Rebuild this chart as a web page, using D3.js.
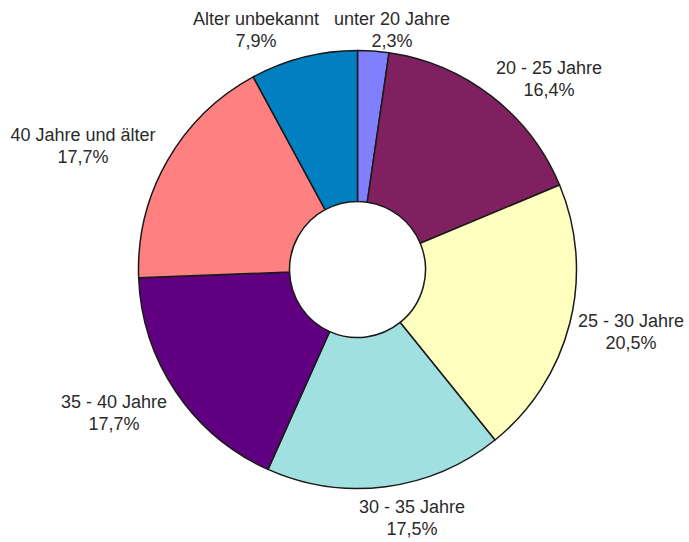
<!DOCTYPE html>
<html>
<head>
<meta charset="utf-8">
<script src="https://cdn.jsdelivr.net/npm/d3@7"></script>
<style>
  html, body { margin: 0; padding: 0; background: #ffffff; }
  svg { display: block; }
</style>
</head>
<body>
<svg id="chart" width="689" height="542"></svg>
<script>
const categories = ["unter 20 Jahre", "20 - 25 Jahre", "25 - 30 Jahre", "30 - 35 Jahre", "35 - 40 Jahre", "40 Jahre und älter", "Alter unbekannt"];
const values = [2.3, 16.4, 20.5, 17.5, 17.7, 17.7, 7.9];
const valueLabels = ["2,3%", "16,4%", "20,5%", "17,5%", "17,7%", "17,7%", "7,9%"];
const colors = ["#8080FF", "#802060", "#FFFFC0", "#A0E0E0", "#600080", "#FF8080", "#0080C0"];
// label anchor positions (center x, baseline y of first line)
const labelPos = [[392, 25], [549, 74], [631, 327], [412, 513], [114, 408], [83, 141], [256, 25]];

const svg = d3.select("#chart");
const cx = 357.5, cy = 269.5, R = 219, r0 = 68;

const pie = d3.pie().sort(null).value(d => d)(values);
const arc = d3.arc().innerRadius(r0).outerRadius(R);

const g = svg.append("g").attr("transform", `translate(${cx},${cy})`);
g.selectAll("path.slice")
  .data(pie)
  .join("path")
  .attr("class", "slice")
  .attr("d", arc)
  .attr("fill", (d, i) => colors[i])
  .attr("stroke", "#1a1a1a")
  .attr("stroke-width", 1.5)
  .attr("stroke-linejoin", "round");

const labels = svg.append("g")
  .attr("font-family", "'Liberation Sans', Arial, sans-serif")
  .attr("font-size", 18)
  .attr("fill", "#2b2b2b")
  .attr("text-anchor", "middle");

categories.forEach((c, i) => {
  const t = labels.append("text")
    .attr("x", labelPos[i][0])
    .attr("y", labelPos[i][1]);
  t.append("tspan").attr("x", labelPos[i][0]).text(c);
  t.append("tspan").attr("x", labelPos[i][0]).attr("dy", 22).text(valueLabels[i]);
});
</script>
</body>
</html>
